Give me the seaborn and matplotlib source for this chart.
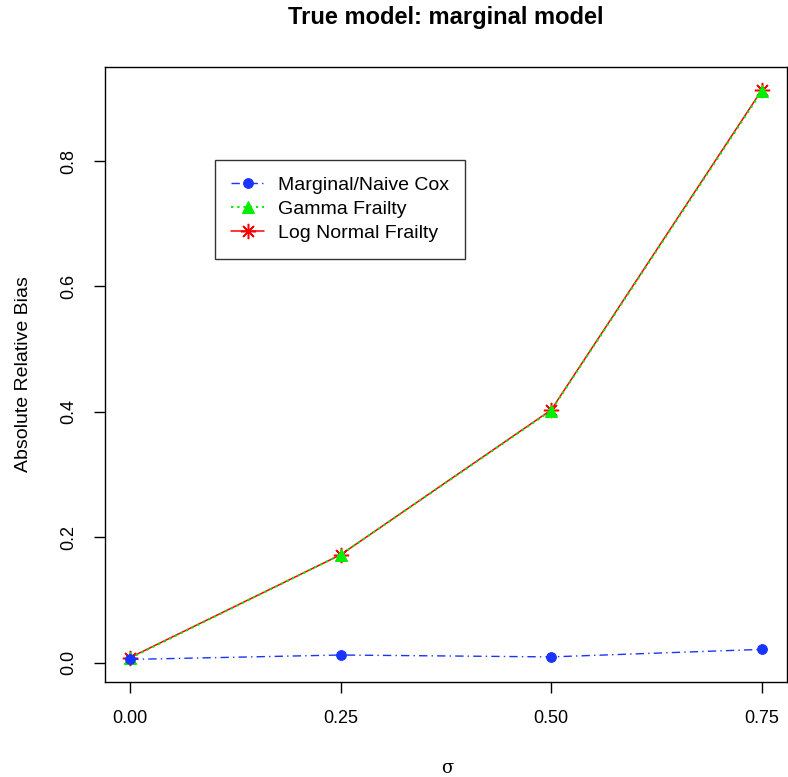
import numpy as np
import pandas as pd
import matplotlib
matplotlib.use("Agg")
import matplotlib.pyplot as plt
import seaborn as sns

# -------------------------------
# Data
# -------------------------------
sigma = [0.00, 0.25, 0.50, 0.75]
marginal_cox = [0.005, 0.012, 0.009, 0.021]
gamma_frailty = [0.007, 0.172, 0.402, 0.911]
lognormal_frailty = [0.008, 0.172, 0.403, 0.913]
x_ticks = [0.00, 0.25, 0.50, 0.75]
x_tick_labels = ["0.00", "0.25", "0.50", "0.75"]
y_ticks = [0.0, 0.2, 0.4, 0.6, 0.8]

df = pd.DataFrame({"sigma": sigma, "cox": marginal_cox,
                   "gamma": gamma_frailty, "lognorm": lognormal_frailty})

# -------------------------------
# Style
# -------------------------------
sns.set_style("ticks")
plt.rcParams["font.family"] = ["Liberation Sans", "DejaVu Sans"]
plt.rcParams["text.color"] = "black"
plt.rcParams["axes.labelcolor"] = "black"

fig = plt.figure(figsize=(7.88, 7.77), dpi=100)
ax = fig.add_axes([0.1332, 0.1223, 0.8655, 0.7915])

sns.lineplot(data=df, x="sigma", y="lognorm", ax=ax, color="red", lw=1.1,
             marker=(8, 2, 0), markersize=11, markeredgecolor="red",
             markeredgewidth=1.1, label="Log Normal Frailty")
sns.lineplot(data=df, x="sigma", y="gamma", ax=ax, color="#00ee00", lw=1.4,
             linestyle=(0, (1.2, 2)), marker="^", markersize=8,
             markeredgecolor="#00ee00", label="Gamma Frailty")
sns.lineplot(data=df, x="sigma", y="cox", ax=ax, color="#1a33ff", lw=1.0,
             linestyle=(0, (6, 3, 1, 3)), marker="o", markersize=7,
             markeredgecolor="#1a33ff", label="Marginal/Naive Cox")

ax.set_xlim(-0.03, 0.78)
ax.set_ylim(-0.031, 0.950)
ax.set_xticks(x_ticks)
ax.set_xticklabels(x_tick_labels)
ax.set_yticks(y_ticks)
ax.set_yticklabels([f"{v:.1f}" for v in y_ticks], rotation=90, va="center")
ax.tick_params(direction="out", length=8, width=1, labelsize=13, color="black",
               labelcolor="black", pad=12)
for s in ax.spines.values():
    s.set_visible(True)
    s.set_color("black")
    s.set_linewidth(1)

ax.set_xlabel("")
# sigma label sits low in the R margin
fig.text(447 / 788, 1 - 768 / 777, "σ", family="DejaVu Serif", fontsize=13,
         ha="center", va="center")
ax.set_ylabel("Absolute Relative Bias", fontsize=14, labelpad=20)
ax.set_title("True model: marginal model", fontsize=17, fontweight="bold", pad=31)

# legend in the R order
handles, labels = ax.get_legend_handles_labels()
order = [2, 1, 0]
leg = ax.legend([handles[i] for i in order], [labels[i] for i in order],
                loc="upper left", bbox_to_anchor=(0.161, 0.849), frameon=True,
                fancybox=False, edgecolor="black", fontsize=14, handlelength=1.7,
                borderpad=0.85, labelspacing=0.33, handletextpad=0.7,
                borderaxespad=0)
leg.get_frame().set_linewidth(1)

fig.savefig("out.png", dpi=100)
